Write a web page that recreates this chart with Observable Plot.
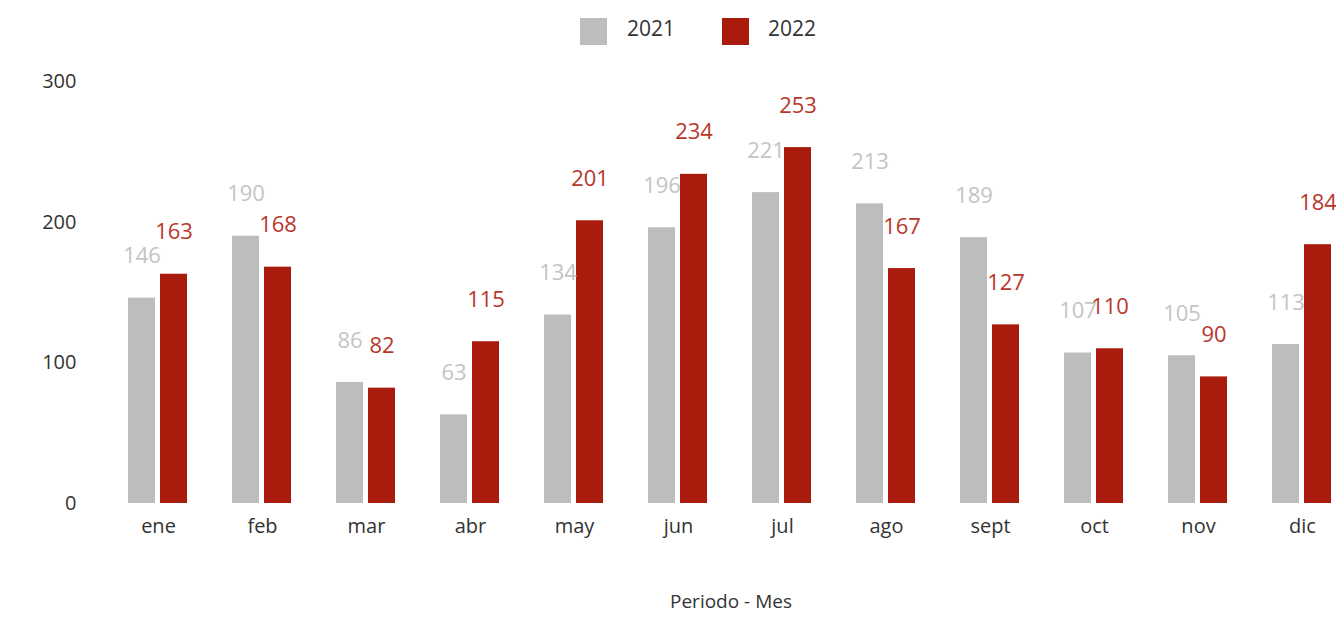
<!DOCTYPE html>
<html>
<head>
<meta charset="utf-8">
<script src="https://cdn.jsdelivr.net/npm/d3@7"></script>
<script src="https://cdn.jsdelivr.net/npm/@observablehq/plot@0.6"></script>
<style>
  html, body { margin: 0; padding: 0; background: #fff; overflow: hidden; }
  body { font-family: "Open Sans", sans-serif; width: 1336px; height: 621px; }
  #legend { height: 55px; position: relative; font-size: 21px; color: #333; }
  .sw { position: absolute; top: 18px; width: 27px; height: 27px; }
  .lt { position: absolute; top: 14px; }
  #chart { width: 1336px; overflow: hidden; }
  #chart svg { display: block; max-width: none !important; }
  #axisTitle { position: absolute; top: 588px; left: 0; width: 1462px; text-align: center; font-size: 19px; color: #333; }
</style>
</head>
<body>
<div id="legend"></div>
<div id="chart"></div>
<div id="axisTitle">Periodo - Mes</div>
<script>
const months = ["ene","feb","mar","abr","may","jun","jul","ago","sept","oct","nov","dic"];
const years = ["2021","2022"];
const values2021 = [146,190,86,63,134,196,221,213,189,107,105,113];
const values2022 = [163,168,82,115,201,234,253,167,127,110,90,184];
const yTicks = [0,100,200,300];
const barColors = ["#bdbdbd","#a91b0d"];
const labelColors = ["#c4c4c4","#b8372c"];

const data = months.flatMap((m, i) => [
  {mes: m, year: years[0], value: values2021[i]},
  {mes: m, year: years[1], value: values2022[i]}
]);

// legend
const legend = d3.select("#legend");
const legendPos = [[580, 627], [722, 768]];
years.forEach((y, i) => {
  legend.append("div").attr("class","sw").style("left", legendPos[i][0]+"px").style("background", barColors[i]);
  legend.append("div").attr("class","lt").style("left", legendPos[i][1]+"px").text(y);
});

const chart = Plot.plot({
  width: 1358,
  height: 566,
  marginLeft: 103,
  marginRight: 0,
  marginTop: 26,
  marginBottom: 118,
  style: {fontFamily: "Open Sans, sans-serif", fontSize: "20px", color: "#333", maxWidth: "none"},
  fx: {domain: months, paddingInner: 0.42, paddingOuter: 0.21, label: null, axis: null},
  x: {domain: years, paddingInner: 0.15, paddingOuter: 0, axis: null},
  y: {domain: [0, 300], label: null},
  color: {domain: years, range: barColors},
  marks: [
    Plot.axisY({ticks: yTicks, tickSize: 0, tickPadding: 52, label: null, fontSize: 20}),
    Plot.axisFx({anchor: "bottom", tickSize: 0, tickPadding: 15, label: null, fontSize: 20}),
    Plot.barY(data, {fx: "mes", x: "year", y: "value", fill: "year"}),
    Plot.text(data, {fx: "mes", x: "year", y: "value", text: d => String(d.value), dy: -42,
      fill: d => labelColors[years.indexOf(d.year)], fontSize: 22,
      fontWeight: d => d.year === "2022" ? 600 : 400})
  ]
});
document.getElementById("chart").appendChild(chart);
</script>
</body>
</html>
